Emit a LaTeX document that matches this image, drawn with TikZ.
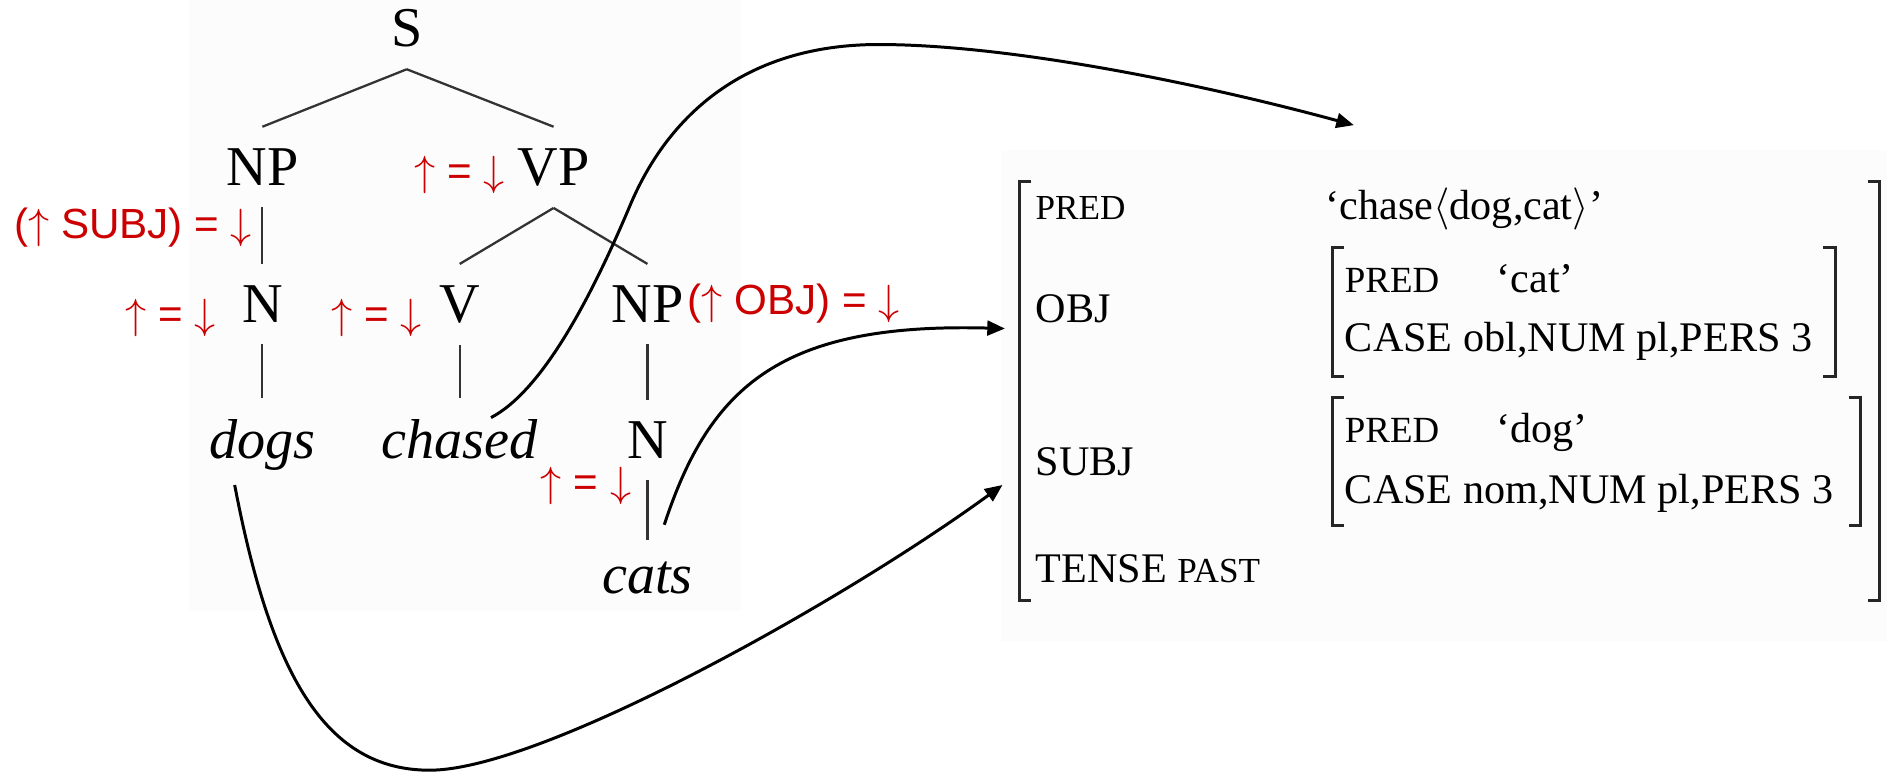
\documentclass[tikz,border=0pt]{standalone}
\usepackage{fontspec}
\setmainfont{Liberation Serif}
\newfontfamily\annfont{Liberation Sans}
\usetikzlibrary{arrows.meta}
\definecolor{lfgred}{RGB}{204,0,0}
\definecolor{panel}{RGB}{252,252,252}
\newcommand{\up}{$\uparrow$}
\newcommand{\dn}{$\downarrow$}
\newcommand{\tedge}[2]{\draw[tline] ([yshift=-6pt]#1.south) -- ([yshift=6pt]#2.north);}
\newcommand{\avmbrackets}[4]{%
  \draw[avm] (#1+10,#2) -- (#1,#2) -- (#1,#4) -- (#1+10,#4);
  \draw[avm] (#3-10,#2) -- (#3,#2) -- (#3,#4) -- (#3-10,#4);}
\tikzset{
  cat/.style={font=\fontsize{16}{18}\selectfont, inner xsep=1pt, inner ysep=0pt, anchor=base},
  ann/.style={font=\annfont\fontsize{12}{14}\selectfont, text=lfgred, inner sep=0pt},
  feat/.style={font=\fontsize{12}{14}\selectfont, anchor=base west, inner sep=0pt},
  tline/.style={draw=black!80, line width=0.65pt},
  link/.style={->, line width=0.85pt},
  avm/.style={line width=0.9pt, black!85},
}

\begin{document}
\begin{tikzpicture}[x=0.012035cm,y=-0.012035cm,>={Triangle[length=5pt,width=4.2pt]}]
\useasboundingbox (0,0) rectangle (1568,642);
\fill[panel] (157,0) rectangle (616,508);
\fill[panel] (832,125) rectangle (1568,533);
% c-structure
\node[cat] (S) at (338,39) {S};
\node[cat] (NPs) at (218,154) {NP};
\node[cat] (VP) at (460,154) {VP};
\node[cat] (Ns) at (218,268) {N};
\node[cat] (V) at (382,268) {V};
\node[cat] (NPo) at (538,268) {NP};
\node[cat] (dogs) at (218,381) {\itshape dogs};
\node[cat] (chased) at (382,381) {\itshape chased};
\node[cat] (No) at (538,381) {N};
\node[cat] (cats) at (538,493) {\itshape cats};
\tedge{S}{NPs}
\tedge{S}{VP}
\tedge{NPs}{Ns}
\tedge{VP}{V}
\tedge{VP}{NPo}
\tedge{Ns}{dogs}
\tedge{V}{chased}
\tedge{NPo}{No}
\tedge{No}{cats}
% annotations
\node[ann,anchor=east] (subjeq) at (210,189) {(\up{} SUBJ) = \dn};
\node[ann,anchor=east] (vpeq) at (420,145) {\up{} = \dn};
\node[ann,anchor=east] (neq) at (180,264) {\up{} = \dn};
\node[ann,anchor=east] (veq) at (351,264) {\up{} = \dn};
\node[ann,anchor=west] (objeq) at (571,252) {(\up{} OBJ) = \dn};
\node[ann,anchor=east] (ceq) at (525,404) {\up{} = \dn};
% f-structure
\avmbrackets{847}{151}{1562}{499}
\avmbrackets{1107}{206}{1525}{313}
\avmbrackets{1107}{330}{1546}{437}
\node[feat] (fpred) at (860,182) {\fontsize{10}{12}\selectfont PRED};
\node[feat] (fpredv) at (1101,182) {‘chase$\langle$dog,cat$\rangle$’};
\node[feat] (fobj) at (860,268) {OBJ};
\node[feat] (opred) at (1117,243) {\fontsize{10.5}{12}\selectfont PRED};
\node[feat] (opredv) at (1243,243) {‘cat’};
\node[feat] (ocase) at (1117,292) {CASE obl,NUM pl,PERS 3};
\node[feat] (fsubj) at (860,395) {SUBJ};
\node[feat] (spred) at (1117,368) {\fontsize{10.5}{12}\selectfont PRED};
\node[feat] (spredv) at (1243,368) {‘dog’};
\node[feat] (scase) at (1117,418) {CASE nom,NUM pl,PERS 3};
\node[feat] (ftense) at (860,484) {TENSE {\fontsize{10}{12}\selectfont PAST}};
% projections
\coordinate (chasedend) at (408,347);
\coordinate (catsend) at (552,436);
\coordinate (dogsend) at (195,403);
\coordinate (toF) at (1125,104);
\coordinate (toOBJ) at (835,273);
\coordinate (toSUBJ) at (833,403);
\draw[link] (chasedend) .. controls (450,325) and (490,250) .. (523,172)
  .. controls (555,95) and (620,37) .. (730,37)
  .. controls (840,37) and (1000,70) .. (toF);
\draw[link] (catsend) .. controls (590,320) and (650,268) .. (toOBJ);
\draw[link] (dogsend) .. controls (225,560) and (270,640) .. (357,640)
  .. controls (450,640) and (700,500) .. (toSUBJ);
\end{tikzpicture}
\end{document}
